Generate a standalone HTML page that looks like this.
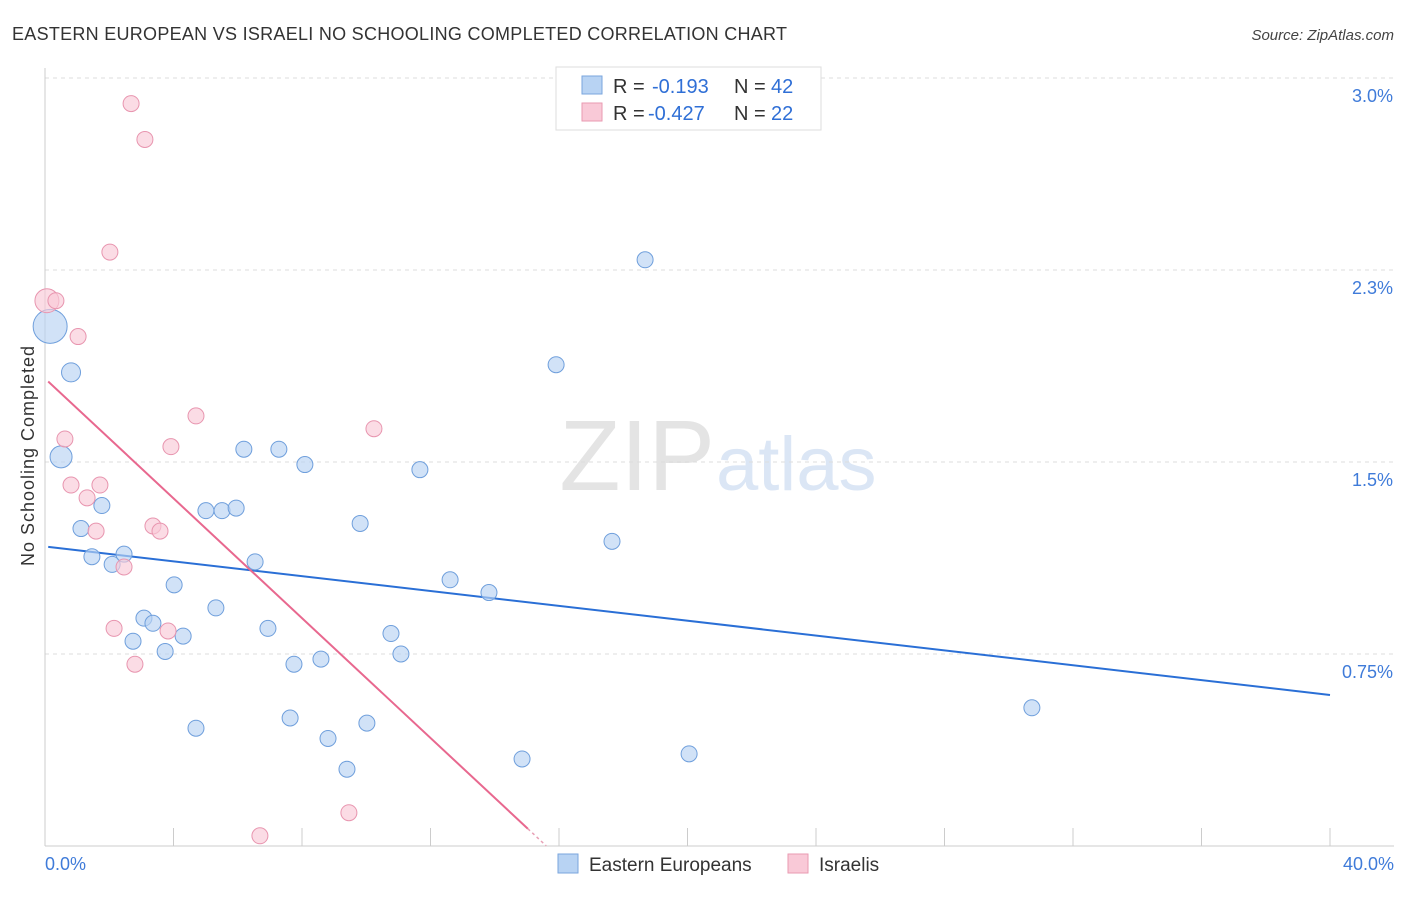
<!DOCTYPE html>
<html><head><meta charset="utf-8"><style>
body{margin:0;background:#fff;font-family:"Liberation Sans",sans-serif;}
svg text{font-family:"Liberation Sans",sans-serif;}
</style></head><body>
<svg id="chart" width="1406" height="892" viewBox="0 0 1406 892">
<text x="12" y="40" font-size="18" fill="#333" textLength="775">EASTERN EUROPEAN VS ISRAELI NO SCHOOLING COMPLETED CORRELATION CHART</text>
<text x="1394" y="40" font-size="15" fill="#444" font-style="italic" text-anchor="end">Source: ZipAtlas.com</text>
<text x="715" y="490" font-size="100" fill="#e4e4e4" text-anchor="end" font-family="Liberation Serif">ZIP</text>
<text x="716" y="490" font-size="76" fill="#dbe6f5">atlas</text>
<g id="grid"></g><g id="axes"></g><g id="lines"></g><g id="points"></g>
<text transform="translate(34,456) rotate(-90)" font-size="18" fill="#333" text-anchor="middle" textLength="220">No Schooling Completed</text>
<g>
<rect x="556" y="67" width="265" height="63" fill="#fff" stroke="#ddd"/>
<rect x="582" y="76" width="20" height="18" fill="#b8d3f3" stroke="#7aa6de"/>
<rect x="582" y="103" width="20" height="18" fill="#f9c9d7" stroke="#e99ab2"/>
<text x="613" y="93" font-size="20" fill="#333">R =</text>
<text x="652" y="93" font-size="20" fill="#2f6fd6">-0.193</text>
<text x="734" y="93" font-size="20" fill="#333">N =</text>
<text x="771" y="93" font-size="20" fill="#2f6fd6">42</text>
<text x="613" y="120" font-size="20" fill="#333">R =</text>
<text x="648" y="120" font-size="20" fill="#2f6fd6">-0.427</text>
<text x="734" y="120" font-size="20" fill="#333">N =</text>
<text x="771" y="120" font-size="20" fill="#2f6fd6">22</text>
</g>
<g>
<rect x="558" y="854" width="20" height="19" fill="#b8d3f3" stroke="#7aa6de"/>
<text x="589" y="871" font-size="19" fill="#333">Eastern Europeans</text>
<rect x="788" y="854" width="20" height="19" fill="#f9c9d7" stroke="#e99ab2"/>
<text x="819" y="871" font-size="19" fill="#333">Israelis</text>
</g>
</svg>
<script>
const blueX=[0.16,0.81,0.5,1.12,1.46,1.77,2.09,2.46,3.08,3.36,2.74,3.74,4.02,4.30,4.70,5.01,5.32,5.51,5.95,6.19,6.54,6.94,7.28,7.63,7.75,8.09,8.59,8.81,9.40,9.81,10.02,10.77,11.08,11.67,12.61,13.82,14.85,15.91,17.65,18.68,20.05,30.72];
const blueY=[2.03,1.85,1.52,1.24,1.13,1.33,1.10,1.14,0.89,0.87,0.80,0.76,1.02,0.82,0.46,1.31,0.93,1.31,1.32,1.55,1.11,0.85,1.55,0.50,0.71,1.49,0.73,0.42,0.30,1.26,0.48,0.83,0.75,1.47,1.04,0.99,0.34,1.88,1.19,2.29,0.36,0.54];
const pinkX=[0.06,0.34,1.03,0.62,0.81,1.31,1.71,1.59,2.02,2.68,3.11,2.15,2.46,2.80,3.36,3.58,3.83,3.92,4.70,6.69,9.46,10.24];
const pinkY=[2.13,2.13,1.99,1.59,1.41,1.36,1.41,1.23,2.32,2.90,2.76,0.85,1.09,0.71,1.25,1.23,0.84,1.56,1.68,0.04,0.13,1.63];
const blueTrend=[1.17,0.59];
const pinkTrend=[1.826,-0.117];
const yTicks=[3.0,2.25,1.5,0.75];
const yTickLabels=["3.0%","2.3%","1.5%","0.75%"];
const xTicks=[0,4,8,12,16,20,24,28,32,36,40];
const NS="http://www.w3.org/2000/svg";
const sx=v=>45+v/40*1285, sy=v=>846-v*256;
function mk(tag,attrs,parent){const e=document.createElementNS(NS,tag);for(const k in attrs)e.setAttribute(k,attrs[k]);document.getElementById(parent).appendChild(e);return e;}
yTicks.forEach((t,i)=>{
 const g=mk('line',{x1:45,x2:1394,y1:sy(t),y2:sy(t),stroke:'#ddd','stroke-dasharray':'4,4'},'grid');
 
 
 const l=mk('text',{x:1393,y:sy(t)+24,'font-size':18,fill:'#3f7bd9','text-anchor':'end'},'grid');
 l.textContent=yTickLabels[i];
 
 
});
const ax=mk('line',{x1:45,x2:45,y1:68,y2:846,stroke:'#ccc'},'axes');


const bx=mk('line',{x1:45,x2:1394,y1:846,y2:846,stroke:'#ccc'},'axes');


xTicks.forEach(t=>{
 const k=mk('line',{x1:sx(t),x2:sx(t),y1:828,y2:846,stroke:'#ccc'},'axes');
 
 
});
const x0=mk('text',{x:45,y:870,'font-size':18,fill:'#3f7bd9'},'axes');x0.textContent='0.0%';


const x1=mk('text',{x:1394,y:870,'font-size':18,fill:'#3f7bd9','text-anchor':'end'},'axes');x1.textContent='40.0%';


blueX.forEach((x,i)=>{
 const c=mk('circle',{cx:sx(x),cy:sy(blueY[i]),r:i==0?17:(i==2?11:(i==1?9.5:8)),fill:'#b8d3f3','fill-opacity':0.65,stroke:'#6f9fdc','stroke-width':1},'points');
 
 
});
pinkX.forEach((x,i)=>{
 const c=mk('circle',{cx:sx(x),cy:sy(pinkY[i]),r:i==0?12:8,fill:'#f9c9d7','fill-opacity':0.65,stroke:'#e895af','stroke-width':1},'points');
 
 
});
const bl=mk('line',{x1:sx(0.1),y1:sy(blueTrend[0]+(blueTrend[1]-blueTrend[0])*0.1/40),x2:sx(40),y2:sy(blueTrend[1]),stroke:'#2a6fd6','stroke-width':2},'lines');


const pe=15.03;
const pl=mk('line',{x1:sx(0.1),y1:sy(pinkTrend[0]+pinkTrend[1]*0.1),x2:sx(pe),y2:sy(pinkTrend[0]+pinkTrend[1]*pe),stroke:'#e8688f','stroke-width':2},'lines');


const pd=mk('line',{x1:sx(pe),y1:sy(pinkTrend[0]+pinkTrend[1]*pe),x2:sx(15.6),y2:sy(pinkTrend[0]+pinkTrend[1]*15.6),stroke:'#e8a0b5','stroke-width':1.5,'stroke-dasharray':'3,3'},'lines');


</script>
</body></html>
